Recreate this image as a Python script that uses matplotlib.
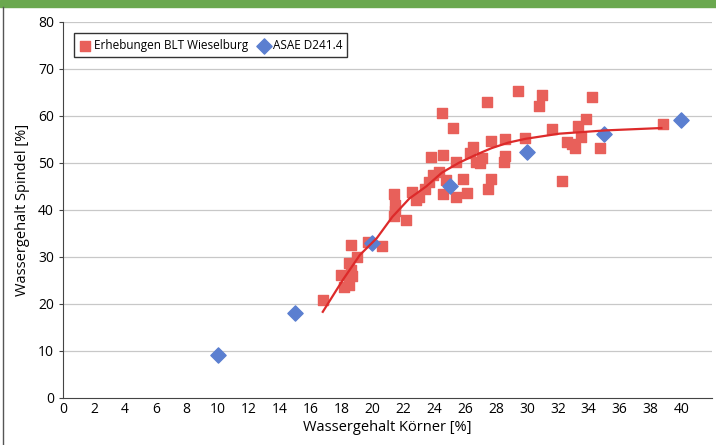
import matplotlib.pyplot as plt
from matplotlib.patches import Rectangle
from matplotlib.lines import Line2D

# Erhebungen BLT Wieselburg (Messpunkte)
blt_x = [16.8, 18.0, 18.2, 18.5, 18.5, 18.6, 18.7, 18.6, 19.0, 19.7, 20.6,
         21.4, 21.5, 21.5, 21.4, 22.2, 22.6, 22.8, 23.0, 23.4, 23.7, 23.9,
         24.3, 23.8, 24.6, 24.5, 24.6, 24.8, 25.2, 25.4, 25.4, 25.9, 26.1,
         26.3, 26.5, 26.7, 27.0, 27.1, 27.4, 27.5, 27.7, 27.7, 28.6, 28.6,
         28.5, 29.4, 29.9, 31.0, 30.8, 31.6, 32.3, 32.6, 32.9, 33.1, 33.5,
         33.3, 33.8, 34.2, 34.7, 38.8]
blt_y = [20.9, 26.2, 23.6, 24.0, 28.7, 27.2, 26.0, 32.6, 30.0, 33.2, 32.3,
         43.4, 41.1, 39.8, 38.7, 37.9, 43.8, 42.1, 42.8, 44.5, 46.0, 47.4,
         48.1, 51.3, 51.7, 60.6, 43.4, 46.4, 57.4, 42.8, 50.2, 46.6, 43.6,
         52.1, 53.4, 50.2, 50.0, 51.1, 63.0, 44.5, 46.6, 54.7, 55.1, 51.5,
         50.2, 65.3, 55.3, 64.5, 62.1, 57.2, 46.2, 54.5, 54.0, 53.2, 55.5,
         57.9, 59.4, 64.0, 53.2, 58.3]

# ASAE D241.4
asae_x = [10, 15, 20, 25, 30, 35, 40]
asae_y = [9.1, 18.1, 33.0, 45.1, 52.3, 56.2, 59.1]

# Trendlinie
trend_x = [16.8, 18.1, 19.2, 20.3, 21.3, 22.4, 23.5, 24.5, 25.6, 26.7,
           27.7, 28.8, 29.9, 32.1, 35.1, 38.7]
trend_y = [18.3, 25.1, 30.4, 34.0, 38.5, 42.4, 45.0, 47.9, 50.0, 51.7,
           53.1, 54.3, 55.1, 56.2, 56.9, 57.4]

x_ticks = list(range(0, 41, 2))
y_ticks = list(range(0, 81, 10))

plt.rcParams['font.family'] = ['Open Sans', 'DejaVu Sans']

fig = plt.figure(figsize=(7.16, 4.45), dpi=100)
ax = fig.add_axes([0.088, 0.106, 0.907, 0.845])

# gruener Balken oben und Rahmen
fig.patches.append(Rectangle((0, 0.985), 1, 0.015, transform=fig.transFigure,
                             color='#6aa84f', zorder=0))
fig.add_artist(Line2D([0.004, 0.004], [0, 0.985], transform=fig.transFigure,
                      color='#555555', lw=1))

for y in y_ticks[1:]:
    ax.axhline(y, color='#c8c8c8', lw=0.9, zorder=0)

ax.scatter(blt_x, blt_y, marker='s', s=55, color='#e8605a', zorder=3,
           label='Erhebungen BLT Wieselburg')
ax.scatter(asae_x, asae_y, marker='D', s=60, color='#5b7fd0', zorder=4,
           label='ASAE D241.4')
ax.plot(trend_x, trend_y, color='#dd2a2a', lw=1.6, zorder=5)

ax.set_xlim(0, 42)
ax.set_ylim(0, 80)
ax.set_xticks(x_ticks)
ax.set_yticks(y_ticks)
ax.tick_params(axis='both', labelsize=10, length=3, color='#444444')
ax.tick_params(axis='x', length=0, pad=3)
for s in ['top', 'right']:
    ax.spines[s].set_visible(False)
for s in ['left', 'bottom']:
    ax.spines[s].set_color('#444444')

ax.set_xlabel('Wassergehalt Körner [%]', fontsize=10.5, labelpad=2)
ax.set_ylabel('Wassergehalt Spindel [%]', fontsize=10.5, labelpad=6)

leg = ax.legend(loc='upper left', bbox_to_anchor=(0.008, 0.985), ncol=2,
                fontsize=8.5, frameon=True, fancybox=False, handletextpad=0.2,
                columnspacing=0.9, borderpad=0.45, handlelength=1.0)
leg.get_frame().set_edgecolor('black')
leg.get_frame().set_linewidth(1.0)

fig.savefig('out.png', dpi=100)
